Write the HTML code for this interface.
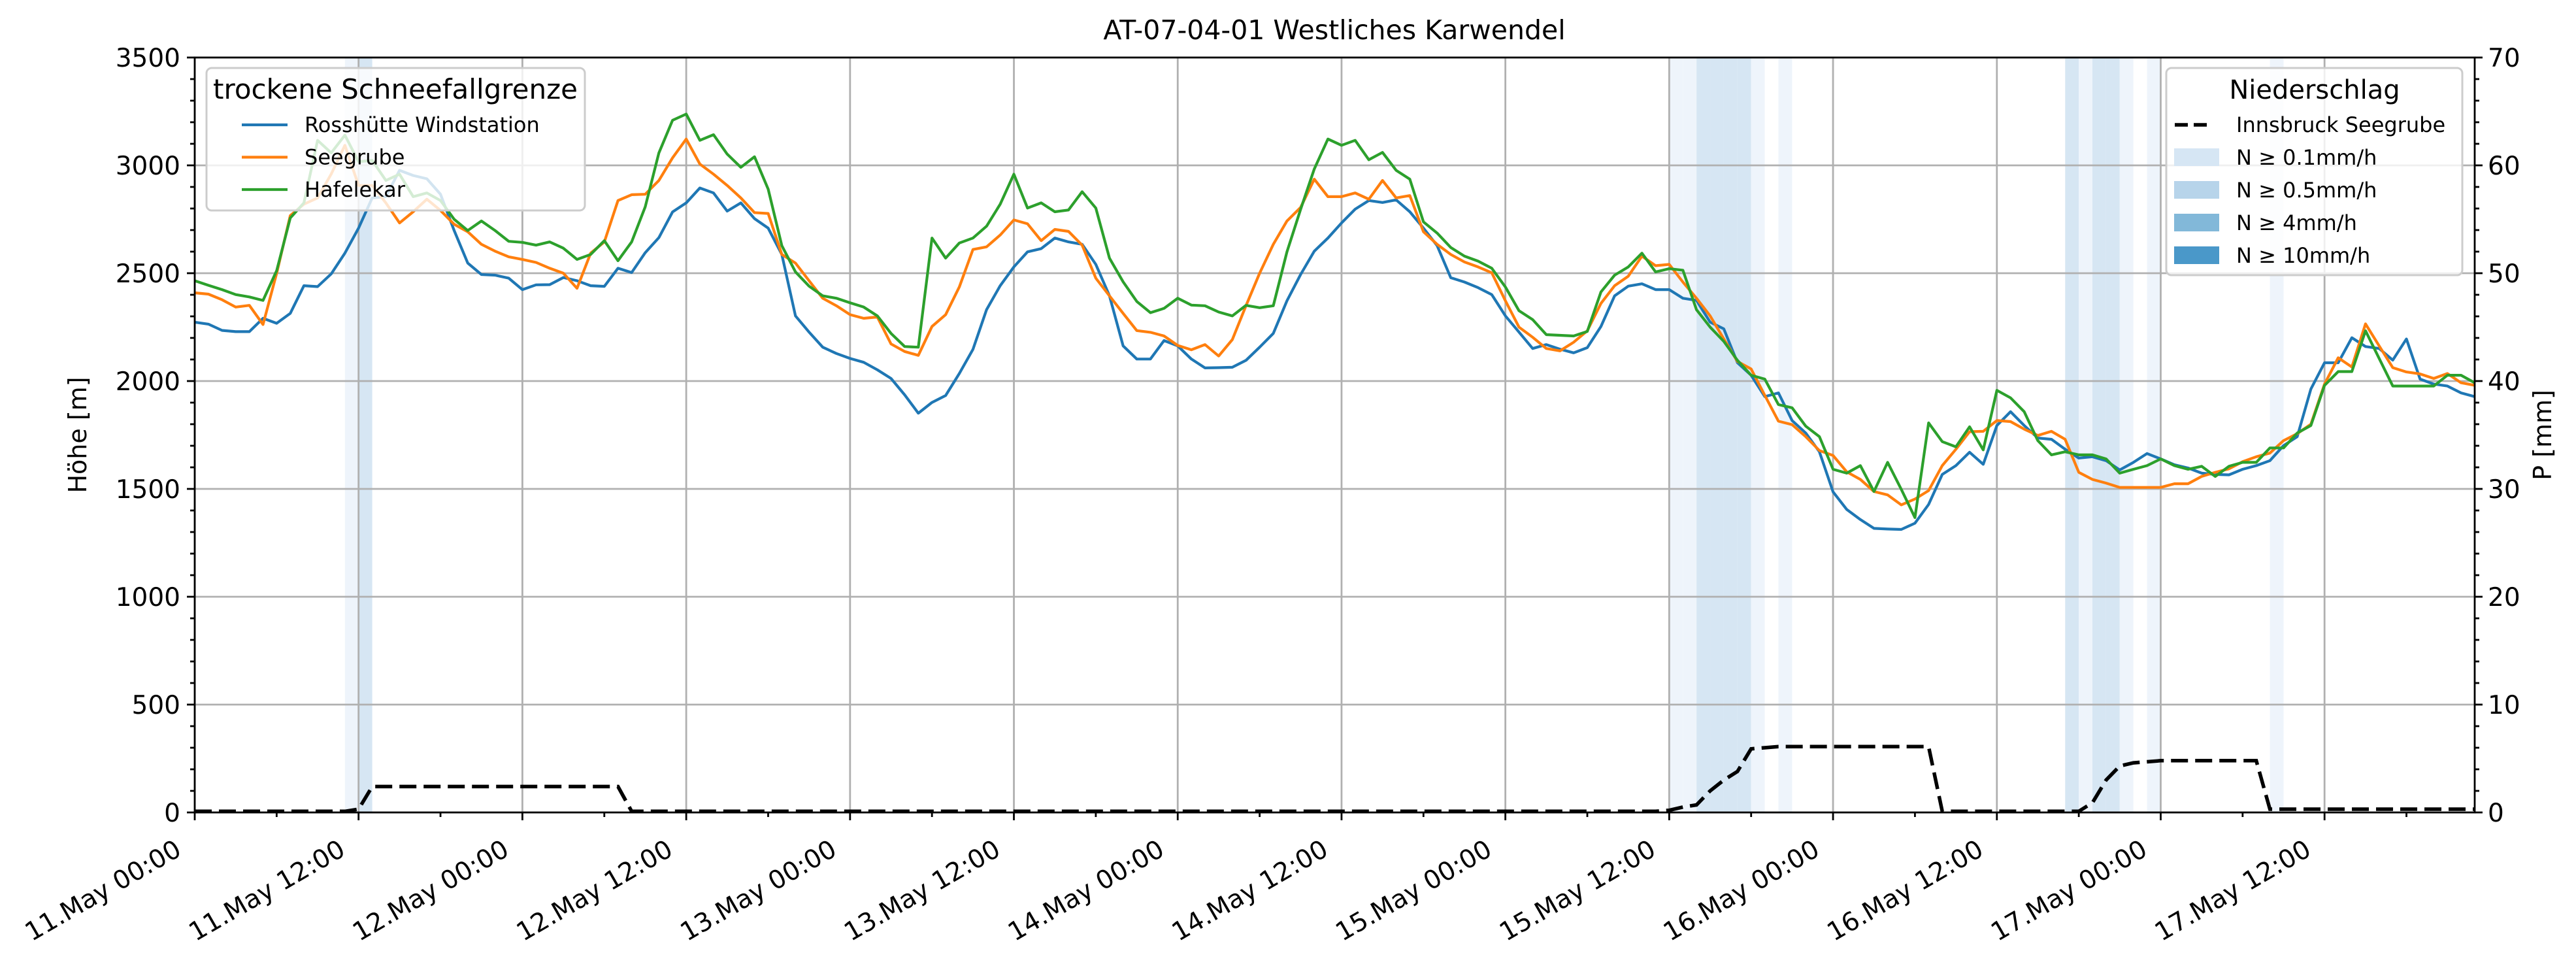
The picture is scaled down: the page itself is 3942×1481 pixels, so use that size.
<!DOCTYPE html>
<html><head><meta charset="utf-8"><style>
html,body{margin:0;padding:0;background:#fff;}
svg{display:block;font-family:"DejaVu Sans","Liberation Sans",sans-serif;}
</style></head><body>
<svg id="chart" width="3942" height="1481" viewBox="0 0 3942 1481" xmlns="http://www.w3.org/2000/svg">
<rect x="0" y="0" width="3942" height="1481" fill="#fff"/>
<text x="2042" y="60" text-anchor="middle" font-size="41">AT-07-04-01 Westliches Karwendel</text>
<g id="bands"></g>
<g id="grid"></g>
<g id="series"></g>
<g id="axes"></g>
<g id="legends"></g>
</svg>
<script>
const hours = Array.from({length:168},(_,i)=>i);
const rosshuette = [2273,2264,2235,2229,2229,2291,2268,2314,2442,2438,2497,2593,2709,2849,2855,2977,2953,2938,2866,2698,2547,2494,2491,2477,2424,2446,2447,2480,2465,2442,
2439,2523,2503,2595,2665,2784,2826,2895,2872,2788,2826,2753,2709,2587,2302,2227,2157,2128,2105,2087,2052,2012,1936,1851,1901,1933,2035,
2147,2331,2442,2529,2599,2614,2663,2645,2634,2541,2395,2163,2102,2102,2188,2163,2102,2061,2062,2064,2096,2157,2221,2372,2494,2602,2663,
2733,2797,2837,2828,2840,2785,2709,2628,2479,2459,2433,2401,2302,2227,2151,2169,2148,2131,2155,2253,2395,2440,2451,2424,2424,2384,2374,2273,
2242,2085,2027,1928,1945,1817,1759,1672,1486,1405,1358,1317,1314,1312,1341,1428,1567,1608,1670,1614,1794,1858,1794,1736,1730,1684,1643,
1649,1631,1588,1623,1664,1639,1612,1597,1573,1567,1565,1591,1608,1631,1701,1742,1963,2085,2085,2201,2160,2151,2097,2195,2009,1986,1977,1945,1928];
const seegrube = [2409,2403,2377,2343,2351,2262,2500,2767,2820,2849,2960,3093,2907,2907,2826,2733,2785,2843,2791,2727,2692,2634,2602,2576,2564,2550,2523,2500,2430,2593,
2645,2837,2864,2866,2930,3035,3122,3006,2959,2907,2849,2781,2777,2587,2547,2465,2384,2349,2308,2291,2297,2172,2137,2119,2253,2308,2436,
2610,2622,2677,2747,2729,2651,2703,2694,2630,2477,2395,2314,2234,2226,2209,2165,2145,2169,2116,2192,2349,2500,2634,2742,2805,2936,2855,
2855,2872,2843,2930,2849,2860,2692,2634,2587,2552,2529,2502,2372,2250,2203,2151,2140,2180,2233,2360,2442,2486,2579,2535,2541,2459,2384,2302,
2195,2091,2056,1934,1814,1798,1742,1678,1655,1579,1544,1488,1472,1426,1453,1492,1608,1684,1765,1767,1817,1812,1777,1748,1767,1730,1577,
1544,1527,1507,1507,1507,1507,1524,1524,1558,1577,1593,1626,1649,1666,1724,1756,1800,1986,2108,2065,2265,2163,2062,2042,2033,2012,2035,1992,1980];
const hafelekar = [2465,2444,2424,2401,2390,2374,2512,2756,2826,3116,3058,3140,3017,3023,2930,2959,2855,2872,2837,2750,2698,2742,2698,2648,2643,2630,2645,2616,2564,
2587,2651,2558,2645,2808,3058,3209,3238,3116,3142,3052,2991,3040,2890,2628,2506,2440,2395,2384,2363,2343,2302,2221,2160,2157,2663,2570,2640,
2663,2718,2820,2959,2802,2826,2785,2793,2878,2802,2570,2460,2369,2317,2337,2384,2352,2349,2320,2302,2351,2340,2349,2599,2796,2983,3122,
3093,3116,3026,3060,2977,2936,2738,2686,2619,2579,2556,2523,2436,2326,2285,2215,2212,2209,2230,2413,2491,2529,2593,2506,2521,2514,2331,2250,
2184,2096,2027,2009,1891,1876,1791,1742,1591,1573,1608,1488,1623,1498,1367,1806,1719,1695,1788,1681,1957,1922,1858,1724,1658,1672,1658,
1658,1639,1573,1591,1608,1639,1608,1591,1605,1558,1605,1623,1623,1690,1690,1759,1794,1980,2044,2044,2233,2105,1977,1977,1977,1977,2027,2027,1992];
const precip = [
0.1,0.1,0.1,0.1,0.1,0.1,0.1,0.1,0.1,0.1,0.1,0.1,
0.3,2.4,2.4,2.4,2.4,2.4,2.4,2.4,2.4,2.4,2.4,2.4,
2.4,2.4,2.4,2.4,2.4,2.4,2.4,2.4,0.1,0.1,0.1,0.1,
0.1,0.1,0.1,0.1,0.1,0.1,0.1,0.1,0.1,0.1,0.1,0.1,
0.1,0.1,0.1,0.1,0.1,0.1,0.1,0.1,0.1,0.1,0.1,0.1,
0.1,0.1,0.1,0.1,0.1,0.1,0.1,0.1,0.1,0.1,0.1,0.1,
0.1,0.1,0.1,0.1,0.1,0.1,0.1,0.1,0.1,0.1,0.1,0.1,
0.1,0.1,0.1,0.1,0.1,0.1,0.1,0.1,0.1,0.1,0.1,0.1,
0.1,0.1,0.1,0.1,0.1,0.1,0.1,0.1,0.1,0.1,0.1,0.1,
0.2,0.5,0.7,2.0,3.0,3.8,5.9,6.0,6.1,6.1,6.1,6.1,
6.1,6.1,6.1,6.1,6.1,6.1,6.1,6.1,0.1,0.1,0.1,0.1,
0.1,0.1,0.1,0.1,0.1,0.1,0.1,0.9,3.0,4.3,4.6,4.7,
4.8,4.8,4.8,4.8,4.8,4.8,4.8,4.8,0.3,0.3,0.3,0.3,
0.3,0.3,0.3,0.3,0.3,0.3,0.3,0.3,0.3,0.3,0.3,0.3];
const bandStart = [11,12,108,109,110,111,112,113,114,116,137,138,139,140,141,143,152];
const bandLevel = [0,1,0,0,1,1,1,1,0,0,1,0,1,1,0,0,0];
const xTickLabels = ["11.May 00:00","11.May 12:00","12.May 00:00","12.May 12:00","13.May 00:00","13.May 12:00","14.May 00:00","14.May 12:00","15.May 00:00","15.May 12:00","16.May 00:00","16.May 12:00","17.May 00:00","17.May 12:00"];
const yTicks = [0,500,1000,1500,2000,2500,3000,3500];
const y2Ticks = [0,10,20,30,40,50,60,70];

const NS="http://www.w3.org/2000/svg";
const L=298,R=3787,T=88,B=1243;
const X=h=>L+(h-0)*(R-L)/167;
const Y=v=>B-v*(B-T)/3500;
const Y2=v=>B-v*(B-T)/70;
function mk(tag,attrs,parent){const e=document.createElementNS(NS,tag);for(const k in attrs)e.setAttribute(k,attrs[k]);parent.appendChild(e);return e;}
const gB=document.getElementById('bands'),gG=document.getElementById('grid'),gS=document.getElementById('series'),gA=document.getElementById('axes'),gL=document.getElementById('legends');

const bandColors=["#eef4fb","#d6e6f3"];
bandStart.forEach((h,i)=>{
  const r=mk('rect',{x:X(h),y:T,width:X(h+1)-X(h),height:B-T,fill:bandColors[bandLevel[i]]},gB);
  
  
});
for(let i=0;i<xTickLabels.length;i++){
  const x=X(i*12);
  const l=mk('line',{x1:x,x2:x,y1:T,y2:B,stroke:"#b0b0b0","stroke-width":2.8},gG);
  
  
}
yTicks.forEach(v=>{
  const l=mk('line',{x1:L,x2:R,y1:Y(v),y2:Y(v),stroke:"#b0b0b0","stroke-width":2.8},gG);
  
  
});
function pathOf(arr,yf){return arr.map((v,i)=>(i?'L':'M')+X(hours[i]).toFixed(1)+','+yf(v).toFixed(1)).join('');}
const s1=mk('path',{d:pathOf(rosshuette,Y),fill:"none",stroke:"#1f77b4","stroke-width":4.2,"stroke-linejoin":"round"},gS);


const s2=mk('path',{d:pathOf(seegrube,Y),fill:"none",stroke:"#ff7f0e","stroke-width":4.2,"stroke-linejoin":"round"},gS);


const s3=mk('path',{d:pathOf(hafelekar,Y),fill:"none",stroke:"#2ca02c","stroke-width":4.2,"stroke-linejoin":"round"},gS);


const s4=mk('path',{d:pathOf(precip,Y2),fill:"none",stroke:"#000","stroke-width":5.5,"stroke-dasharray":"26 11"},gS);


const fr=mk('rect',{x:L,y:T,width:R-L,height:B-T,fill:"none",stroke:"#000","stroke-width":2.8},gA);


for(let h=0;h<=167;h+=6){
  const major=h%12===0;
  const t=mk('line',{x1:X(h),x2:X(h),y1:B,y2:B+(major?12:7),stroke:"#000","stroke-width":2.8},gA);
  
  
}
xTickLabels.forEach((s,i)=>{
  const x=X(i*12)-18,y=B+64;
  const t=mk('text',{x:x,y:y,"text-anchor":"end","font-size":39,transform:`rotate(-30 ${x} ${y})`},gA);
  t.textContent=s;
  
  
});
for(let v=0;v<=3500;v+=100){
  const major=v%500===0;
  const t=mk('line',{x1:L-(major?12:7),x2:L,y1:Y(v),y2:Y(v),stroke:"#000","stroke-width":2.8},gA);
  
  
}
yTicks.forEach(v=>{
  const t=mk('text',{x:L-22,y:Y(v)+14,"text-anchor":"end","font-size":39},gA);
  t.textContent=v;
  
  
});
for(let v=0;v<=70;v+=2){
  const major=v%10===0;
  const t=mk('line',{x1:R,x2:R+(major?12:7),y1:Y2(v),y2:Y2(v),stroke:"#000","stroke-width":2.8},gA);
  
  
}
y2Ticks.forEach(v=>{
  const t=mk('text',{x:R+20,y:Y2(v)+14,"text-anchor":"start","font-size":39},gA);
  t.textContent=v;
  
  
});
const yt=mk('text',{x:0,y:0,"text-anchor":"middle","font-size":38,transform:`translate(132 ${(T+B)/2}) rotate(-90)`},gA);
yt.textContent="Höhe [m]";


const yt2=mk('text',{x:0,y:0,"text-anchor":"middle","font-size":38,transform:`translate(3904 ${(T+B)/2}) rotate(-90)`},gA);
yt2.textContent="P [mm]";


const lb1=mk('rect',{x:316,y:104,width:579,height:218,rx:8,fill:"#fff","fill-opacity":0.8,stroke:"#cccccc","stroke-width":3},gL);


const lt1=mk('text',{x:605,y:151,"text-anchor":"middle","font-size":42},gL);
lt1.textContent="trockene Schneefallgrenze";


const legNames=["Rosshütte Windstation","Seegrube","Hafelekar"];
const legCols=["#1f77b4","#ff7f0e","#2ca02c"];
legNames.forEach((n,i)=>{
  const y=191+i*49.5;
  const l=mk('line',{x1:370,x2:440,y1:y,y2:y,stroke:legCols[i],"stroke-width":4.2},gL);
  
  
  const t=mk('text',{x:466,y:y+11,"font-size":32},gL);
  t.textContent=n;
  
  
});
const lb2=mk('rect',{x:3315,y:104,width:453,height:317,rx:8,fill:"#fff","fill-opacity":0.8,stroke:"#cccccc","stroke-width":3},gL);


const lt2=mk('text',{x:3542,y:151,"text-anchor":"middle","font-size":40},gL);
lt2.textContent="Niederschlag";


const dl=mk('line',{x1:3328,x2:3386,y1:191,y2:191,stroke:"#000","stroke-width":5.5,"stroke-dasharray":"20 9"},gL);


const dt=mk('text',{x:3422,y:202,"font-size":32},gL);
dt.textContent="Innsbruck Seegrube";


const swCols=["#d6e6f4","#b7d4ea","#82b8d9","#4a98c9"];
const swLabels=["N ≥ 0.1mm/h","N ≥ 0.5mm/h","N ≥ 4mm/h","N ≥ 10mm/h"];
swLabels.forEach((s,i)=>{
  const y=227+i*50;
  const r=mk('rect',{x:3327,y:y,width:69,height:27,fill:swCols[i]},gL);
  
  
  const t=mk('text',{x:3422,y:y+25,"font-size":32},gL);
  t.textContent=s;
  
  
});
</script>
</body></html>
